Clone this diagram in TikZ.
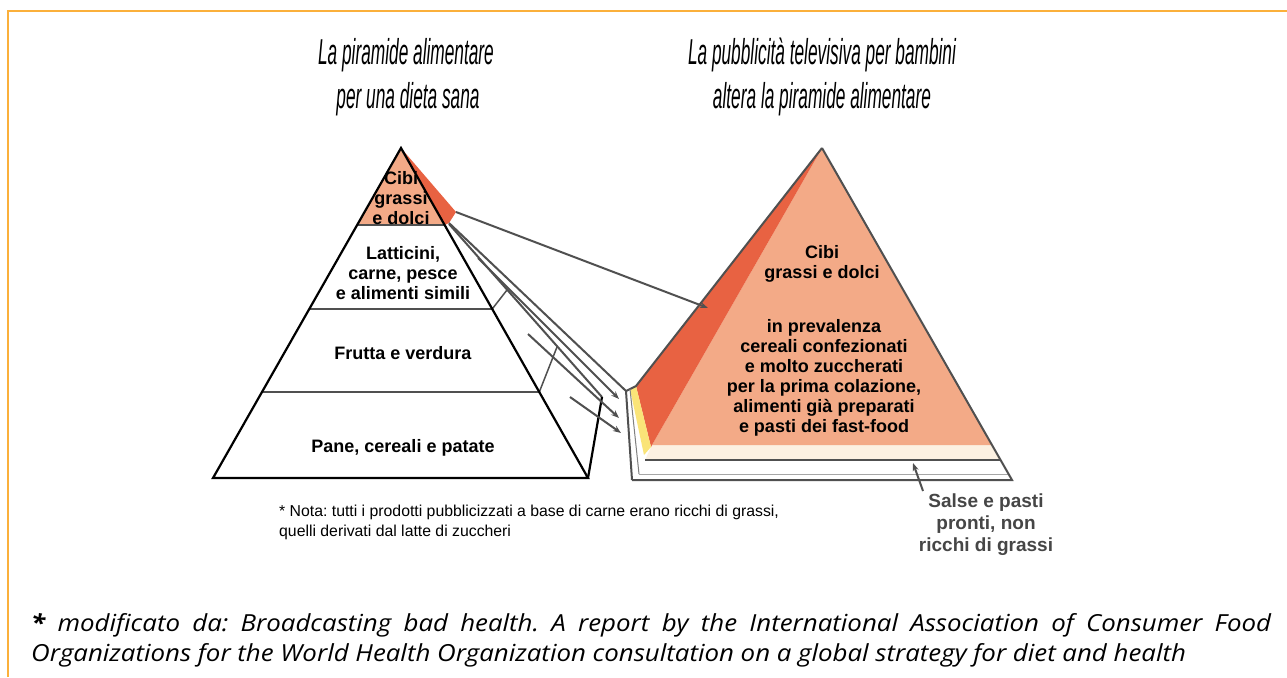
\documentclass[tikz,border=0pt]{standalone}
\usepackage{fontspec}
\setmainfont{Liberation Sans}
\newfontfamily\titlefont{Liberation Sans}[FakeStretch=0.48]
\newfontfamily\notefont{Open Sans}[FakeStretch=1.1]
\usetikzlibrary{arrows.meta}
\definecolor{salmon}{RGB}{243,170,135}
\definecolor{redside}{RGB}{232,98,66}
\definecolor{yell}{RGB}{250,228,120}
\definecolor{cream}{RGB}{252,241,226}
\definecolor{lgray}{RGB}{80,80,80}
\definecolor{frameor}{RGB}{251,176,59}
\definecolor{salsegray}{RGB}{70,70,70}
\tikzset{
  title/.style={font=\titlefont\itshape\fontsize{36}{43}\selectfont, inner sep=0pt, anchor=base},
  label/.style={font=\bfseries\fontsize{18}{20}\selectfont, align=center, inner sep=0pt},
  fanline/.style={draw=lgray, line width=2pt},
  fanarrow/.style={draw=lgray, line width=2pt, -{Stealth[length=8pt,width=6pt]}},
  layerline/.style={draw=lgray, line width=1.5pt},
}
\begin{document}
\frenchspacing
\begin{tikzpicture}[x=1pt,y=-1pt]
\path[use as bounding box, fill=white] (0,0) rectangle (1287,677);
% frame
\coordinate (f1) at (8,677); \coordinate (f2) at (8,11); \coordinate (f3) at (1287,11);
\draw[frameor, line width=2.5pt] (f1) -- (f2) -- (f3);

% ---------------- left pyramid ----------------
\coordinate (LA) at (401,148);
\coordinate (LBL) at (213,478);
\coordinate (LBR) at (588,478);
\coordinate (l1L) at (357.1,225); \coordinate (l1R) at (444.6,225);
\coordinate (l2L) at (309.3,309); \coordinate (l2R) at (492.2,309);
\coordinate (l3L) at (262.0,392); \coordinate (l3R) at (539.3,392);
\fill[salmon] (LA) -- (l1L) -- (l1R) -- cycle;
\coordinate (rt) at (456,212); \coordinate (rb) at (449,223);
\fill[redside] (LA) -- (rt) -- (rb) -- (l1R) -- cycle;

% side face of left pyramid
\coordinate (s0) at (449,224);
\coordinate (s1) at (507,290);
\coordinate (s2) at (557,347);
\coordinate (s3) at (602,397);
\draw[fanline] (s0) -- (s3);
\draw[fanline, line width=1.5pt] (l2R) -- (s1);
\draw[fanline, line width=1.5pt] (l3R) -- (s2);
\draw[black, line width=2.2pt] (LBR) -- (s3);

\draw[layerline] (l1L) -- (l1R);
\draw[layerline] (l2L) -- (l2R);
\draw[layerline] (l3L) -- (l3R);
\draw[black, line width=2.2pt, line join=miter] (LA) -- (LBL) -- (LBR) -- cycle;

\node[label] (lt1) at (401,198.5) {Cibi\\grassi\\e dolci};
\node[label] (lt2) at (403,273.5) {Latticini,\\carne, pesce\\e alimenti simili};
\node[label] (lt3) at (403,353) {Frutta e verdura};
\node[label] (lt4) at (403,448) {Pane, cereali e patate};

% ---------------- right pyramid ----------------
\coordinate (RA) at (822,148);
\coordinate (RBL) at (632,480);
\coordinate (RBR) at (1012,480);
\coordinate (sa1) at (652,445); \coordinate (sa2) at (992,445);
\coordinate (cr1) at (645,460); \coordinate (cr2) at (1000.6,460);
\coordinate (wl1) at (639,474); \coordinate (wl2) at (1008.6,474);
\coordinate (rc) at (636,386);
\coordinate (yb) at (651,447);
\coordinate (yt) at (630,389);
\coordinate (yl) at (644,455);
\coordinate (ft) at (626,391);

\fill[cream] (sa1) -- (sa2) -- (cr2) -- (cr1) -- cycle;
\fill[white] (cr1) -- (cr2) -- (RBR) -- (RBL) -- cycle;
\fill[salmon] (RA) -- (sa1) -- (sa2) -- cycle;
\fill[redside] (RA) -- (rc) -- (yb) -- (sa1) -- cycle;
\fill[yell] (yt) -- (rc) -- (yb) -- (yl) -- cycle;

\draw[layerline, line width=1.3pt] (cr1) -- (cr2);
\draw[layerline, draw=gray!70, line width=1pt] (wl1) -- (wl2);
\draw[fanline] (RA) -- (rc) -- (yt) -- (ft);
\draw[fanline] (ft) -- (RBL);
\draw[draw=gray, line width=1pt] (yt) -- (wl1);
\draw[fanline, line join=miter] (RBL) -- (RBR) -- (RA);

% connectors between pyramids
\coordinate (p1) at (708,308);
\draw[fanarrow] (rt) -- (p1);
\draw[fanline] (rb) -- (ft);
\coordinate (a1s) at (478,258); \coordinate (a1e) at (619,399);
\coordinate (a2s) at (528,334); \coordinate (a2e) at (619,418);
\coordinate (a3s) at (570,397); \coordinate (a3e) at (621,433);
\draw[fanarrow] (a1s) -- (a1e);
\draw[fanarrow] (a2s) -- (a2e);
\draw[fanarrow] (a3s) -- (a3e);

\node[label] (rt1) at (822,263.5) {Cibi\\grassi e dolci};
\node[label] (rt2) at (824,377.5) {in prevalenza\\cereali confezionati\\e molto zuccherati\\per la prima colazione,\\alimenti già preparati\\e pasti dei fast-food};

% salse
\node[label, text=salsegray, font=\bfseries\fontsize{19}{22}\selectfont] (salse) at (986,524.5) {Salse e pasti\\pronti, non\\ricchi di grassi};
\coordinate (sq) at (923,491);
\coordinate (sp) at (913,463);
\draw[fanarrow] (sq) -- (sp);

% titles
\node[title] (t1) at (406,65) {La piramide alimentare};
\node[title] (t2) at (408,108) {per una dieta sana};
\node[title] (t3) at (822,65) {La pubblicità televisiva per bambini};
\node[title] (t4) at (822,108) {altera la piramide alimentare};

% nota
\node[font=\fontsize{15.8}{20}\selectfont, align=left, anchor=west, inner sep=0pt] (nota) at (279,522)
 {* Nota: tutti i prodotti pubblicizzati a base di carne erano ricchi di grassi,\\quelli derivati dal latte di zuccheri};

% footer
\node[font=\notefont\itshape\fontsize{23.5}{30}\selectfont, anchor=base west, inner sep=0pt] (foot1) at (31,631)
 {\makebox[1240pt][s]{\textbf{*} modificato da: Broadcasting bad health. A report by the International Association of Consumer Food}};
\node[font=\notefont\itshape\fontsize{23.5}{30}\selectfont, anchor=base west, inner sep=0pt] (foot2) at (31,661)
 {Organizations for the World Health Organization consultation on a global strategy for diet and health};
\end{tikzpicture}
\end{document}
